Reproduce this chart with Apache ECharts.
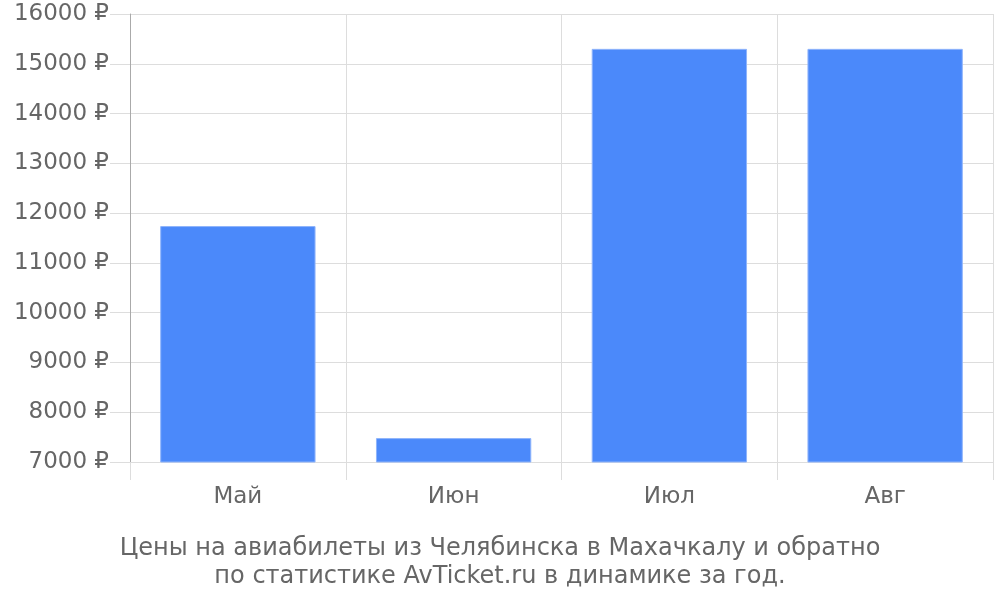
<!DOCTYPE html>
<html>
<head>
<meta charset="utf-8">
<script src="https://cdn.jsdelivr.net/npm/echarts@6/dist/echarts.min.js"></script>
<style>html,body{margin:0;padding:0;background:#fff}#c{width:1000px;height:600px}</style>
</head>
<body>
<div id="c"></div>
<script>
const categories = ['Май', 'Июн', 'Июл', 'Авг'];
const prices = [11740, 7480, 15300, 15300];
const yMin = 7000, yMax = 16000, yStep = 1000;
const titleText = 'Цены на авиабилеты из Челябинска в Махачкалу и обратно\nпо статистике AvTicket.ru в динамике за год.';

const chart = echarts.init(document.getElementById('c'));
chart.setOption({
  animation: false,
  textStyle: { fontFamily: 'DejaVu Sans' },
  title: {
    text: titleText,
    left: 'center',
    top: 530,
    textStyle: { fontFamily: 'DejaVu Sans', fontSize: 24, fontWeight: 'normal', color: '#666', lineHeight: 28 }
  },
  grid: { left: 130, right: 7, top: 14, bottom: 138, containLabel: false },
  xAxis: {
    type: 'category',
    data: categories,
    axisLine: { show: true, lineStyle: { color: '#ddd' } },
    axisTick: { show: true, length: 18, lineStyle: { color: '#ddd' } },
    axisLabel: { fontSize: 23, color: '#666', margin: 24 },
    splitLine: { show: true, lineStyle: { color: '#ddd' } }
  },
  yAxis: {
    type: 'value',
    min: yMin, max: yMax, interval: yStep,
    axisLine: { show: true, lineStyle: { color: '#aaa' } },
    axisTick: { show: true, length: 20, lineStyle: { color: '#ddd' } },
    axisLabel: { fontSize: 23, color: '#666', margin: 21, padding: [5, 0, 0, 0], formatter: v => String(v) + ' ₽' },
    splitLine: { show: true, lineStyle: { color: '#ddd' } }
  },
  series: [{
    type: 'bar',
    data: prices,
    barCategoryGap: '28%',
    itemStyle: { color: '#4b89fa', borderColor: '#8fb4fb', borderWidth: 1 }
  }]
});
</script>
</body>
</html>
